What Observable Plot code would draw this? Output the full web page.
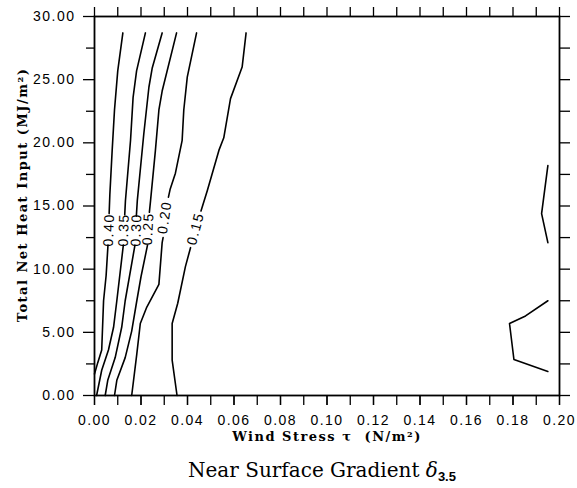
<!DOCTYPE html>
<html>
<head>
<meta charset="utf-8">
<script src="https://cdn.jsdelivr.net/npm/d3@7"></script>
<script src="https://cdn.jsdelivr.net/npm/@observablehq/plot@0.6"></script>
<style>
  html, body { margin: 0; padding: 0; background: #fff; }
  #wrap { position: relative; width: 577px; height: 488px; }
  #wrap svg text { letter-spacing: 1.5px; }
  #wrap svg g[aria-label="axis-title"] text { letter-spacing: 0; }
  #title { position: absolute; left: 0; top: 458px; width: 577px; padding-left: 67px; box-sizing: border-box;
           text-align: center; font-family: "DejaVu Serif", serif; font-size: 20px; line-height: 24px; color: #000; }
  #title i { font-style: italic; }
  #title sub { font-family: "Liberation Sans", sans-serif; font-weight: bold; font-size: 13px; vertical-align: -4px; line-height: 0; }
</style>
</head>
<body>
<div id="wrap"></div>
<script>
// Axis ticks
const xTicks = d3.range(0, 21).map(i => i / 100);
const xLabelTicks = d3.range(0, 11).map(i => i / 50);
const yMajor = [0, 5, 10, 15, 20, 25, 30];
const yMinor = [2.5, 7.5, 12.5, 17.5, 22.5, 27.5];
const yAll = d3.range(0, 13).map(i => i * 2.5);

// Axis titles
const xTitle = "Wind Stress τ  (N/m²)";
const yTitle = "Total Net Heat Input (MJ/m²)";

// Contour polylines as [wind stress τ, heat input] pairs (upper part / lower part around label)
const c040a = [[0.0122,28.7],[0.0100,25.7],[0.0086,22.6],[0.0076,19.4],[0.0066,15.9],[0.0063,14.4]];
const c040b = [[0.0058,11.9],[0.0050,9.5],[0.0039,7.5],[0.0031,3.6],[0.0014,2.6],[0.0000,1.7]];
const c035a = [[0.0219,28.7],[0.0181,25.7],[0.0166,23.6],[0.0155,20.2],[0.0133,15.4],[0.0130,14.3]];
const c035b = [[0.0124,11.9],[0.0096,7.5],[0.0082,5.4],[0.0060,3.6],[0.0031,2.0],[0.0009,0]];
const c030a = [[0.0291,28.7],[0.0248,25.9],[0.0234,24.4],[0.0212,20.7],[0.0184,15.4],[0.0180,14.2]];
const c030b = [[0.0174,11.9],[0.0132,7.5],[0.0117,5.4],[0.0089,3.0],[0.0057,1.2],[0.0046,0]];
const c025a = [[0.0353,28.7],[0.0291,24.1],[0.0277,22.6],[0.0262,19.4],[0.0241,15.4],[0.0236,14.5]];
const c025b = [[0.0228,11.9],[0.0200,9.4],[0.0182,7.5],[0.0160,5.1],[0.0132,3.0],[0.0096,1.2],[0.0086,0]];
const c020a = [[0.0439,28.7],[0.0399,25.2],[0.0384,22.6],[0.0377,20.2],[0.0348,17.6],[0.0325,16.3],[0.0318,15.7]];
const c020b = [[0.0295,12.5],[0.0291,12.1],[0.0277,8.8],[0.0225,7.0],[0.0197,5.7],[0.0182,3.3],[0.0160,0]];
const c015a = [[0.0652,28.7],[0.0635,26.0],[0.0585,23.5],[0.0556,20.4],[0.0535,19.4],[0.0485,16.2],[0.0458,14.6]];
const c015b = [[0.0413,11.7],[0.0391,10.2],[0.0358,7.3],[0.0334,5.7],[0.0334,2.8],[0.0355,0]];
const edgeUpper = [[0.1950,18.2],[0.1923,14.4],[0.1950,12.1]];
const edgeLower = [[0.1950,7.5],[0.1854,6.3],[0.1785,5.7],[0.1804,2.85],[0.1950,1.9]];

// Contour labels
const labelText = ["0.40", "0.35", "0.30", "0.25", "0.20", "0.15"];
const labelTau = [0.0062, 0.0126, 0.0180, 0.0231, 0.0302, 0.0435];
const labelHeat = [13.1, 13.1, 13.1, 13.2, 14.1, 13.2];
const labelAngle = [-88, -88, -88, -87, -82, -75];

const segments = [c040a, c040b, c035a, c035b, c030a, c030b, c025a, c025b, c020a, c020b, c015a, c015b, edgeUpper, edgeLower];
const lineRows = segments.flatMap((seg, id) => seg.map(([tau, heat]) => ({id, tau, heat})));
const labelRows = labelText.map((t, i) => ({t, tau: labelTau[i], heat: labelHeat[i], r: labelAngle[i]}));
const blank = () => "";

const chart = Plot.plot({
  width: 577,
  height: 450,
  marginLeft: 94,
  marginRight: 18,
  marginTop: 16,
  marginBottom: 55,
  x: {domain: [0, 0.2]},
  y: {domain: [0, 30]},
  style: {fontFamily: "Liberation Sans, Arial, sans-serif", fontSize: "14px", color: "#000", background: "#fff"},
  marks: [
    Plot.line(lineRows, {x: "tau", y: "heat", z: "id", stroke: "#000", strokeWidth: 1.6}),
    Plot.text(labelRows, {x: "tau", y: "heat", text: "t", rotate: "r", fontSize: 14, fill: "#000"}),
    Plot.axisX({ticks: xTicks, anchor: "bottom", tickSize: 10, tickFormat: blank, label: null, strokeWidth: 1.3}),
    Plot.axisX({ticks: xLabelTicks, anchor: "bottom", tickSize: 10, tickPadding: 10, tickFormat: d3.format(".2f"), label: null, strokeWidth: 1.3}),
    Plot.axisX({ticks: xTicks, anchor: "top", tickSize: 10, tickFormat: blank, label: null, strokeWidth: 1.3}),
    Plot.axisY({ticks: yMinor, anchor: "left", tickSize: 8, tickFormat: blank, label: null, strokeWidth: 1.3}),
    Plot.axisY({ticks: yMajor, anchor: "left", tickSize: 11, tickPadding: 8, tickFormat: d3.format(".2f"), label: null, strokeWidth: 1.3}),
    Plot.axisY({ticks: yAll, anchor: "right", tickSize: 10, tickFormat: blank, label: null, strokeWidth: 1.3}),
    Plot.frame({stroke: "#000", strokeWidth: 1.8}),
    Plot.text([xTitle], {frameAnchor: "bottom", dy: 45, textAnchor: "middle", fontFamily: "DejaVu Serif, serif", fontWeight: "bold", fontSize: 13, ariaLabel: "axis-title"}),
    Plot.text([yTitle], {frameAnchor: "left", dx: -72, dy: -11, rotate: -90, textAnchor: "middle", fontFamily: "DejaVu Serif, serif", fontWeight: "bold", fontSize: 13, ariaLabel: "axis-title"})
  ]
});

const wrap = document.getElementById("wrap");
wrap.appendChild(chart);
const title = document.createElement("div");
title.id = "title";
title.innerHTML = "Near Surface Gradient <i>δ</i><sub>3.5</sub>";
wrap.appendChild(title);
</script>
</body>
</html>
